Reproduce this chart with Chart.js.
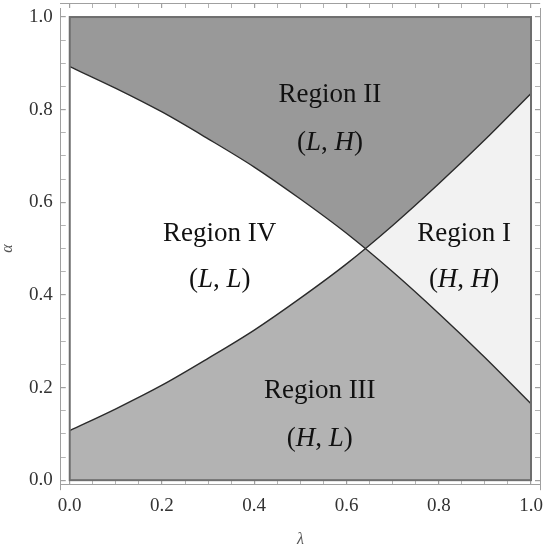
<!DOCTYPE html>
<html>
<head>
<meta charset="utf-8">
<script src="https://cdn.jsdelivr.net/npm/chart.js@4.4.0/dist/chart.umd.min.js"></script>
<style>
  html, body { margin: 0; padding: 0; background: #fff; }
  #wrap { width: 550px; height: 550px; }
</style>
</head>
<body>
<div id="wrap"><canvas id="regionChart"></canvas></div>
<script>
// lambda samples and the two boundary curves
const lambdaVals = [0, 0.1, 0.2, 0.3, 0.4, 0.5, 0.6, 0.7, 0.8, 0.9, 1.0];
const upperCurve = [0.893, 0.846, 0.795, 0.737, 0.676, 0.607, 0.533, 0.450, 0.360, 0.265, 0.165];
const lowerCurve = [0.107, 0.154, 0.205, 0.263, 0.324, 0.393, 0.467, 0.550, 0.640, 0.735, 0.835];

// frame ticks
const majorTicks = [0, 0.2, 0.4, 0.6, 0.8, 1.0];
const minorTicks = [0.05, 0.1, 0.15, 0.25, 0.3, 0.35, 0.45, 0.5, 0.55, 0.65, 0.7, 0.75, 0.85, 0.9, 0.95];
const tickLabels = ['0.0', '0.2', '0.4', '0.6', '0.8', '1.0'];

// region annotations
const regionNames = ['Region II', 'Region IV', 'Region I', 'Region III'];
const regionPairs = [['L', 'H'], ['L', 'L'], ['H', 'H'], ['H', 'L']];
const regionX = [0.564, 0.325, 0.855, 0.542];
const regionY = [0.832, 0.531, 0.531, 0.192];
const pairY = [0.729, 0.432, 0.432, 0.090];

const colDark = '#999999';
const colMid = '#b3b3b3';
const colLight = '#f2f2f2';
const pad = 0.0195;

const toPoints = ys => lambdaVals.map((x, i) => ({ x: x, y: ys[i] }));
const allTicks = majorTicks.concat(minorTicks).sort((a, b) => a - b);
const setTicks = axis => { axis.ticks = allTicks.map(v => ({ value: v })); };
const labelFor = v => {
    const k = majorTicks.findIndex(m => Math.abs(m - v) < 1e-6);
    return k >= 0 ? tickLabels[k] : '';
};
const isMajor = v => majorTicks.some(m => Math.abs(m - v) < 1e-6);
// labels sit inside the frame padding, so no extra room is needed for them
const noLabelPadding = axis => {
    axis.paddingTop = 0; axis.paddingBottom = 0;
    axis.paddingLeft = 0; axis.paddingRight = 0;
};

function frameAxis(position, showLabels, title, labelPad) {
    return {
        type: 'linear',
        position: position,
        min: -pad,
        max: 1 + pad,
        afterBuildTicks: setTicks,
        afterFit: noLabelPadding,
        border: { display: true, color: '#a0a0a0', width: 1 },
        grid: {
            drawOnChartArea: false,
            drawTicks: true,
            tickLength: -5,
            color: '#a0a0a0',
            lineWidth: ctx => (ctx.tick && isMajor(ctx.tick.value)) ? 1.2 : 0.8
        },
        ticks: {
            display: showLabels,
            padding: labelPad,
            color: '#333',
            font: { family: 'Liberation Serif', size: 19 },
            autoSkip: false,
            maxRotation: 0,
            callback: v => labelFor(v)
        },
        title: title ? {
            display: true,
            text: title,
            color: '#555',
            font: { family: 'Liberation Serif', size: 16, style: 'italic', lineHeight: 1.0 },
            padding: { top: 0, bottom: 0 }
        } : { display: false }
    };
}

// outline of the unit square plus the region texts
const regionText = {
    id: 'regionText',
    afterDatasetsDraw(chart) {
        const { ctx, scales } = chart;
        const xs = scales.x, ys = scales.y;
        ctx.save();
        ctx.strokeStyle = '#6e6e6e';
        ctx.lineWidth = 2;
        const x0 = xs.getPixelForValue(0), x1 = xs.getPixelForValue(1);
        const y0 = ys.getPixelForValue(0), y1 = ys.getPixelForValue(1);
        ctx.strokeRect(x0, y1, x1 - x0, y0 - y1);

        ctx.fillStyle = '#111';
        ctx.textAlign = 'center';
        ctx.textBaseline = 'middle';
        regionNames.forEach((name, i) => {
            const px = xs.getPixelForValue(regionX[i]);
            ctx.font = '27px "Liberation Serif"';
            ctx.fillText(name, px, ys.getPixelForValue(regionY[i]));

            // "(A, B)" with italic letters
            const py = ys.getPixelForValue(pairY[i]);
            const parts = [
                ['(', 'normal'], [regionPairs[i][0], 'italic'], [', ', 'normal'],
                [regionPairs[i][1], 'italic'], [')', 'normal']
            ];
            let w = 0;
            parts.forEach(p => { ctx.font = p[1] + ' 27px "Liberation Serif"'; w += ctx.measureText(p[0]).width; });
            let cx = px - w / 2;
            ctx.textAlign = 'left';
            parts.forEach(p => {
                ctx.font = p[1] + ' 27px "Liberation Serif"';
                ctx.fillText(p[0], cx, py);
                cx += ctx.measureText(p[0]).width;
            });
            ctx.textAlign = 'center';
        });
        ctx.restore();
    }
};

new Chart(document.getElementById('regionChart'), {
    type: 'line',
    data: {
        datasets: [
            {
                // rising boundary; fills between the two curves
                data: toPoints(lowerCurve),
                borderColor: '#2b2b2b',
                borderWidth: 1.4,
                pointRadius: 0,
                cubicInterpolationMode: 'monotone',
                fill: { target: 1, above: colLight, below: '#ffffff' }
            },
            {
                // falling boundary; fills down to alpha = 0
                data: toPoints(upperCurve),
                borderColor: '#2b2b2b',
                borderWidth: 1.4,
                pointRadius: 0,
                cubicInterpolationMode: 'monotone',
                fill: { target: { value: 0 }, above: colMid, below: colMid }
            },
            {
                // falling boundary again; fills up to alpha = 1
                data: toPoints(upperCurve),
                borderWidth: 0,
                borderColor: 'rgba(0,0,0,0)',
                pointRadius: 0,
                cubicInterpolationMode: 'monotone',
                fill: { target: { value: 1 }, above: colDark, below: colDark }
            }
        ]
    },
    options: {
        responsive: true,
        maintainAspectRatio: false,
        animation: false,
        layout: { autoPadding: false, padding: { top: 8, right: 10, left: 0, bottom: -3 } },
        scales: {
            x: frameAxis('bottom', true, 'λ', 15),
            x2: frameAxis('top', false, null, 10),
            y: frameAxis('left', true, 'α', 13),
            y2: frameAxis('right', false, null, 10)
        },
        plugins: {
            legend: { display: false },
            tooltip: { enabled: false },
            filler: { drawTime: 'beforeDatasetsDraw' }
        }
    },
    plugins: [regionText]
});
</script>
</body>
</html>
